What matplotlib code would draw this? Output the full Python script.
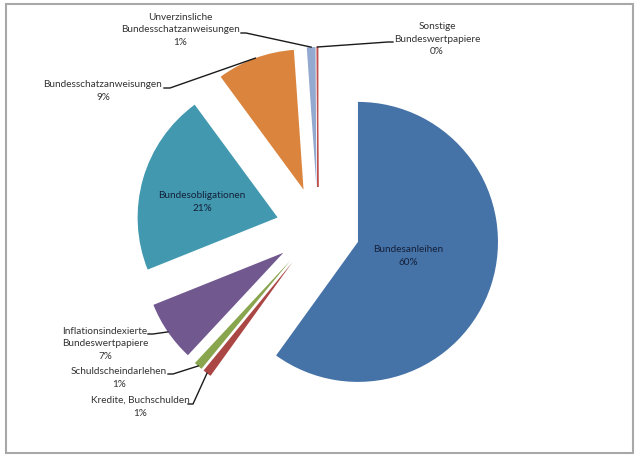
import numpy as np
import matplotlib
matplotlib.use('Agg')
import matplotlib.pyplot as plt
from matplotlib.patches import Rectangle

# data
labels = ['Bundesanleihen', 'Kredite, Buchschulden', 'Schuldscheindarlehen',
          'Inflationsindexierte\nBundeswertpapiere', 'Bundesobligationen',
          'Bundesschatzanweisungen', 'Unverzinsliche\nBundesschatzanweisungen',
          'Sonstige\nBundeswertpapiere']
values = [60, 1, 1, 7, 21, 9, 1, 0.1]
pct_text = ['60%', '1%', '1%', '7%', '21%', '9%', '1%', '0%']
colors = ['#4572A7', '#AA4643', '#89A54E', '#71588F', '#4198AF',
          '#DB843D', '#93A9CF', '#C0504D']

# layout in pixels (figure 640x459, y from top)
W, H = 640, 459
CX, CY, R = 318, 229, 140
inside = {0: (408, 256), 4: (202, 202)}
# text block centre, leader start, elbow
outside = {
    1: ((140, 407), (188, 404), (193, 404)),
    2: ((119, 378), (168, 374), (173, 374)),
    3: ((105, 344), (148, 334), (153, 334)),
    5: ((103, 91), (164, 88), (170, 88)),
    6: ((180, 30), (241, 33), (246, 33)),
    7: ((437, 39), (393, 42), (388, 42)),
}


def px(p):
    return ((p[0] - CX) / R, (CY - p[1]) / R)


plt.rcParams['font.family'] = ['Lato', 'DejaVu Sans']

fig = plt.figure(figsize=(6.4, 4.59), dpi=100)
ax = fig.add_axes([0, 0, 1, 1])
wedges, _ = ax.pie(values, colors=colors, startangle=90, counterclock=False,
                   explode=[0.3] * len(values), radius=1,
                   wedgeprops=dict(linewidth=0))
# the near-zero slice only shows as a thin line
wedges[7].set_edgecolor(colors[7])
wedges[7].set_linewidth(0.8)
ax.set_xlim(-CX / R, (W - CX) / R)
ax.set_ylim(-(H - CY) / R, CY / R)
ax.set_aspect('auto')
ax.axis('off')

for i, pos in inside.items():
    x, y = px(pos)
    ax.text(x, y, labels[i] + '\n' + pct_text[i], ha='center', va='center',
            fontsize=7.2, color='#14213a', linespacing=1.55)

for i, (pos, start, elbow) in outside.items():
    w = wedges[i]
    ang = np.deg2rad((w.theta1 + w.theta2) / 2)
    end = (w.center[0] + w.r * np.cos(ang), w.center[1] + w.r * np.sin(ang))
    x, y = px(pos)
    ax.text(x, y, labels[i] + '\n' + pct_text[i], ha='center', va='center',
            fontsize=7.2, color='#333333', linespacing=1.55)
    s, e = px(start), px(elbow)
    ax.plot([s[0], e[0], end[0]], [s[1], e[1], end[1]], color='#1a1a1a', lw=1)

fig.patches.append(Rectangle((6 / W, 1 - 453 / H), 627 / W, 449 / H,
                             transform=fig.transFigure, fill=False,
                             ec='#a8a8a8', lw=1.5))

fig.savefig('out.png', dpi=100)
